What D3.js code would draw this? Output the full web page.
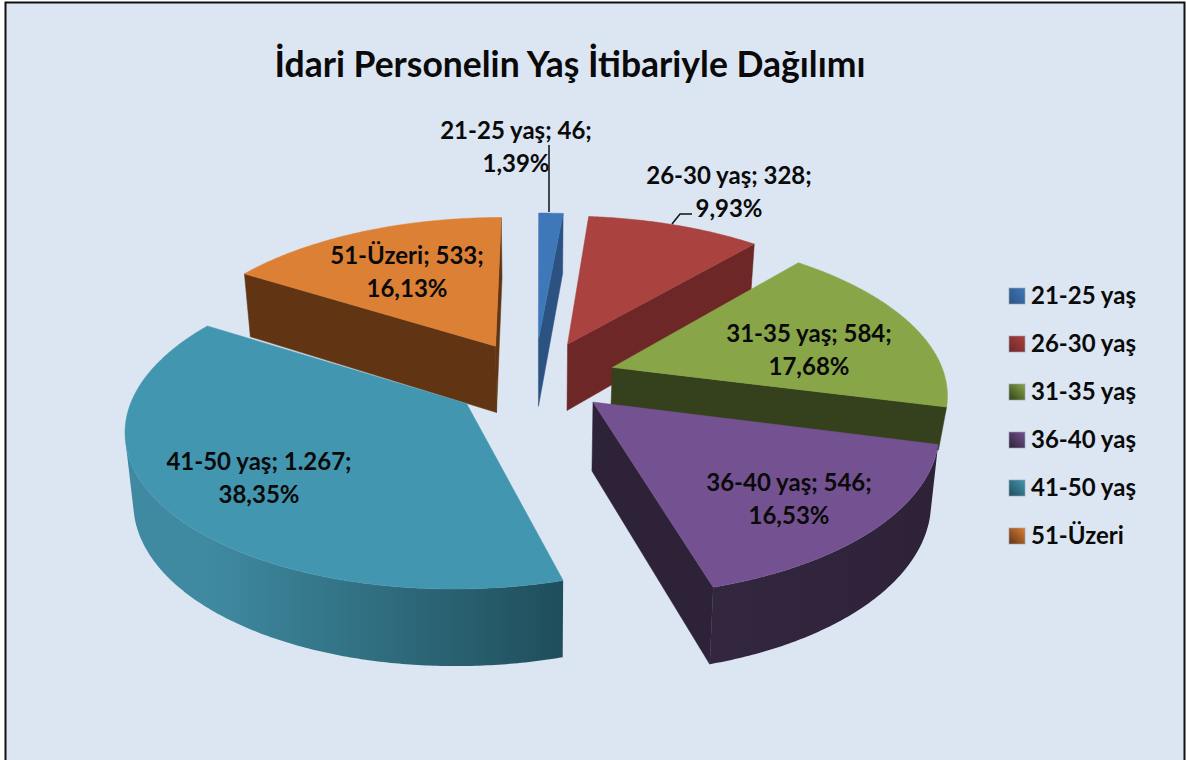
<!DOCTYPE html>
<html>
<head>
<meta charset="utf-8">
<script src="https://cdn.jsdelivr.net/npm/d3@7"></script>
<style>
body { margin: 0; background: #fff; }
text { font-family: Lato, "Open Sans", sans-serif; font-weight: 700; fill: #0a0a0a; }
</style>
</head>
<body>
<div id="chart"></div>
<script>
// data
var categories = ["21-25 yaş", "26-30 yaş", "31-35 yaş", "36-40 yaş", "41-50 yaş", "51-Üzeri"];
var counts = [46, 328, 584, 546, 1267, 533];
var countLabels = ["46", "328", "584", "546", "1.267", "533"];
var percentLabels = ["1,39%", "9,93%", "17,68%", "16,53%", "38,35%", "16,13%"];

// colours: top face, wall light, wall dark, legend
var topColors = ["#3f78b9", "#aa4240", "#88a548", "#745291", "#4296b0", "#dc8035"];
var wallLight = ["#3a679f", "#7d2e2d", "#3f4e22", "#33263f", "#3f8aa1", "#75421a"];
var wallDark = ["#2c5282", "#6d2726", "#35411c", "#2e2239", "#1f4e5b", "#613413"];

var explode = [0.23, 0.22, 0.23, 0.2, 0.27, 0.24];
// small per slice corrections in ground units
var shiftX = [-0.015, 0, 0, 0.012, 0, -0.021];
var shiftY = [0, 0, 0.02, 0.03, 0.015, 0.02];
var radiusX = [1, 1, 1, 1, 0.985, 1];
var radiusY = [1, 1, 1, 1, 0.96, 1];
var wallScale = [1, 1, 0.62, 1, 1, 1];
var drawOrder = [5, 0, 1, 2, 4, 3];

var W = 1186, H = 760;
var cx = 540, cy = 375;
var rx = 332, ry = 156, wall = 69, D = 6.67;

var svg = d3.select("#chart").append("svg").attr("width", W).attr("height", H).style("display", "block");

svg.append("rect").attr("x", 5.5).attr("y", 2.5).attr("width", 1179).attr("height", 770)
    .attr("fill", "#dce6f2").attr("stroke", "#111").attr("stroke-width", 2);

var defs = svg.append("defs");

svg.append("text").attr("x", 570).attr("y", 77).attr("text-anchor", "middle")
    .style("font-size", "35.5px").text("İdari Personelin Yaş İtibariyle Dağılımı");

var xScale = d3.scaleLinear().domain([-1, 1]).range([cx - rx, cx + rx]);
var yScale = d3.scaleLinear().domain([-1, 1]).range([cy - ry, cy + ry]);

// ground point -> screen, z = 0 is the top face, z = 1 the bottom
function project(X, Y, z) {
    var s = D / (D - Y);
    var shrink = 1 - 0.02 * (z > 0 ? 1 : 0);
    return [xScale(X * s * shrink), yScale(Y * s) + z * wall * Math.pow(s, 0.7) * 0.98];
}

var pie = d3.pie().sort(null).startAngle(0).endAngle(2 * Math.PI);
var arcs = pie(counts);
var line = d3.line();

function area(pts) { return d3.polygonArea(pts); }

drawOrder.forEach(function(i) {
    var a = arcs[i];
    var mid = (a.startAngle + a.endAngle) / 2;
    var ox = Math.sin(mid) * explode[i] + shiftX[i], oy = -Math.cos(mid) * explode[i] + shiftY[i];
    var g = svg.append("g");
    var low = wallScale[i];

    var n = Math.max(2, Math.ceil((a.endAngle - a.startAngle) / 0.01));
    var angles = d3.range(n + 1).map(function(k) { return a.startAngle + (a.endAngle - a.startAngle) * k / n; });
    var rim = function(t, z) { return project(ox + radiusX[i] * Math.sin(t), oy - radiusY[i] * Math.cos(t), z); };
    var apex = function(z) { return project(ox, oy, z); };

    var gradId = "wall" + i;
    var grad = defs.append("linearGradient").attr("id", gradId).attr("gradientUnits", "userSpaceOnUse")
        .attr("x1", rim(a.startAngle, 0)[0]).attr("x2", rim(a.endAngle, 0)[0]).attr("y1", 0).attr("y2", 0);
    var leftFirst = rim(a.startAngle, 0)[0] < rim(a.endAngle, 0)[0];
    grad.append("stop").attr("offset", 0).attr("stop-color", leftFirst ? wallLight[i] : wallDark[i]);
    grad.append("stop").attr("offset", 1).attr("stop-color", leftFirst ? wallDark[i] : wallLight[i]);

    // radial walls, only when they face the viewer
    var q1 = [apex(0), rim(a.startAngle, 0), rim(a.startAngle, low), apex(low)];
    var q2 = [rim(a.endAngle, 0), apex(0), apex(low), rim(a.endAngle, low)];
    [q1, q2].forEach(function(q) {
        if (area(q) > 0) {
            g.append("path").attr("d", line(q) + "Z").attr("fill", wallDark[i]).attr("stroke", wallDark[i]).attr("stroke-width", 0.5);
        }
    });

    // outer wall, front part only
    var front = [];
    for (var k = 0; k < n; k++) {
        var quad = [rim(angles[k], 0), rim(angles[k + 1], 0), rim(angles[k + 1], low), rim(angles[k], low)];
        if (area(quad) > 0) {
            front.push(angles[k]);
            if (k == n - 1 || area([rim(angles[k + 1], 0), rim(angles[k + 2], 0), rim(angles[k + 2], low), rim(angles[k + 1], low)]) <= 0) {
                front.push(angles[k + 1]);
            }
        }
    }
    if (front.length) {
        var tops = front.map(function(t) { return rim(t, 0); });
        var bots = front.map(function(t) { return rim(t, low); }).reverse();
        g.append("path").attr("d", line(tops.concat(bots)) + "Z").attr("fill", "url(#" + gradId + ")");
    }

    // top face
    var face = [apex(0)].concat(angles.map(function(t) { return rim(t, 0); }));
    g.append("path").attr("d", line(face) + "Z").attr("fill", topColors[i]).attr("stroke", topColors[i]).attr("stroke-width", 0.5);
});

// leader lines
var leaders = [[[549, 145], [549, 212]], [[672, 224], [680, 214], [692, 214]]];
leaders.forEach(function(l) {
    svg.append("path").attr("d", line(l)).attr("fill", "none").attr("stroke", "#111").attr("stroke-width", 1.5);
});

// data labels (centre x, first baseline)
var labelX = [516, 729, 809, 789, 259, 407];
var labelY = [139, 184, 342, 491, 470, 264];
var labelFirst = categories.map(function(c, i) { return c + "; " + countLabels[i] + ";"; });
categories.forEach(function(c, i) {
    var t = svg.append("text").attr("text-anchor", "middle").style("font-size", "24px");
    t.append("tspan").attr("x", labelX[i]).attr("y", labelY[i]).text(labelFirst[i]);
    t.append("tspan").attr("x", labelX[i]).attr("y", labelY[i] + 33).text(percentLabels[i]);
});

// legend
var legendY = d3.scalePoint().domain(categories).range([296, 536]);
categories.forEach(function(c, i) {
    var y = legendY(c);
    var gid = "leg" + i;
    var lg = defs.append("linearGradient").attr("id", gid).attr("x1", 0).attr("y1", 1).attr("x2", 1).attr("y2", 0);
    lg.append("stop").attr("offset", 0).attr("stop-color", wallDark[i]);
    lg.append("stop").attr("offset", 1).attr("stop-color", topColors[i]);
    svg.append("rect").attr("x", 1009).attr("y", y - 8).attr("width", 16).attr("height", 16)
        .attr("fill", "url(#" + gid + ")").attr("stroke", "#9aa3ad").attr("stroke-width", 0.6);
    svg.append("text").attr("x", 1031).attr("y", y + 8).style("font-size", "24px").text(c);
});
</script>
</body>
</html>
